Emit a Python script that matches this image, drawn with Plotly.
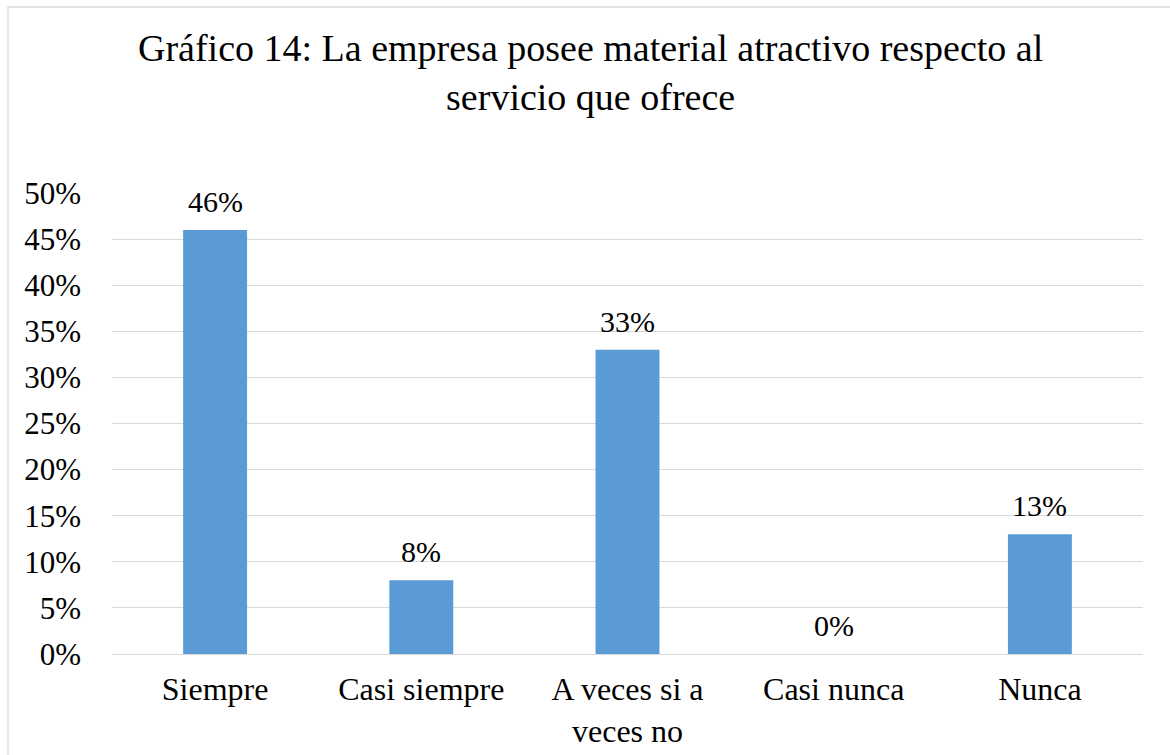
import plotly.graph_objects as go

categories = ["Siempre", "Casi siempre", "A veces si a<br>veces no", "Casi nunca", "Nunca"]
values = [0.46, 0.08, 0.33, 0.0, 0.13]
labels = ["46%", "8%", "33%", "0%", "13%"]
tick_vals = [0, 0.05, 0.10, 0.15, 0.20, 0.25, 0.30, 0.35, 0.40, 0.45, 0.50]
tick_text = ["0%", "5%", "10%", "15%", "20%", "25%", "30%", "35%", "40%", "45%", "50%"]
title_text = "Gráfico 14: La empresa posee material atractivo respecto al<br>servicio que ofrece"

FONT = "Liberation Serif, Times New Roman, serif"

fig = go.Figure(go.Bar(
    x=categories, y=values,
    marker=dict(color="#5B9BD5", line=dict(width=0)),
    width=0.31,
))

W, H = 1170, 755
L, R, T, B = 112, 27, 193, 101

annotations = [dict(x=c, y=v, text=t, xref="x", yref="y", showarrow=False,
                    xanchor="center", yanchor="bottom", yshift=10,
                    font=dict(family=FONT, size=30, color="#000000"))
               for c, v, t in zip(categories, values, labels)]
annotations.append(dict(text=title_text, xref="paper", yref="paper",
                        x=(590 - L) / (W - L - R), y=(654 - 73) / (654 - 193),
                        xanchor="center", yanchor="middle", showarrow=False,
                        font=dict(family=FONT, size=38, color="#000000")))

fig.update_layout(
    width=W, height=H,
    margin=dict(l=L, r=R, t=T, b=B, autoexpand=False),
    paper_bgcolor="white", plot_bgcolor="white",
    font=dict(family=FONT, size=31, color="#000000"),
    showlegend=False,
    xaxis=dict(showgrid=False, showline=False, ticks="", tickfont=dict(size=32),
               ticklabelstandoff=13, automargin=False),
    yaxis=dict(range=[0, 0.5], tickvals=tick_vals, ticktext=tick_text,
               showgrid=True, gridcolor="#D9D9D9", gridwidth=1.3,
               zeroline=True, zerolinecolor="#D9D9D9", zerolinewidth=1.3,
               showline=False, ticks="", tickfont=dict(size=31), ticklabelstandoff=30,
               automargin=False),
    annotations=annotations,
    shapes=[dict(type="rect", xref="paper", yref="paper",
                 x0=(8 - L) / (W - L - R), x1=(W + 5 - L) / (W - L - R),
                 y0=(654 - (H + 5)) / (654 - 193), y1=(654 - 7) / (654 - 193),
                 line=dict(color="#D9D9D9", width=1.3), layer="below")],
)

fig.write_html("out.html")
